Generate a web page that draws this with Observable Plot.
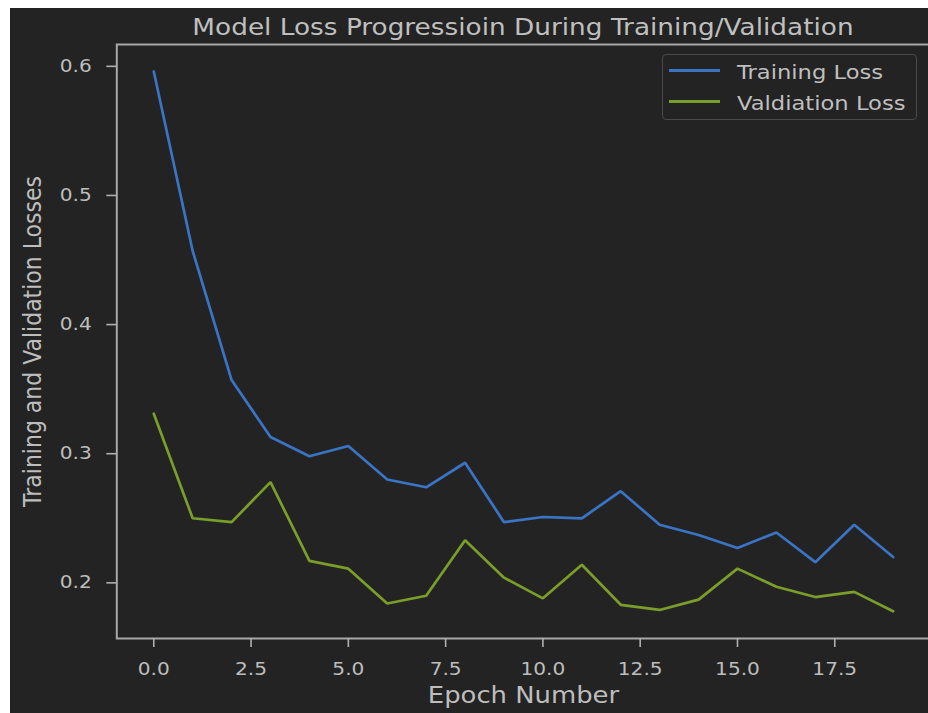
<!DOCTYPE html>
<html>
<head>
<meta charset="utf-8">
<script src="https://cdn.jsdelivr.net/npm/d3@7"></script>
<script src="https://cdn.jsdelivr.net/npm/@observablehq/plot@0.6"></script>
<style>
  html, body { margin: 0; padding: 0; background: #ffffff; overflow: hidden; }
  #wrap { position: relative; width: 928px; height: 713px; background: #ffffff; overflow: hidden; }
  #panel { position: absolute; left: 10px; top: 8px; width: 918px; height: 705px; background: #232323; overflow: hidden; font-family: "DejaVu Sans", sans-serif; }
  #chart { position: absolute; left: 0; top: 0; width: 930px; height: 705px; }
  #chart svg { max-width: none !important; width: 930px; height: 705px; display: block; }
  .title { position: absolute; left: 513px; top: 8px; white-space: nowrap; font-size: 22.5px; line-height: 1; color: #bfbfbf; transform: translateX(-50%) scaleX(1.17); }
  .legend-box { position: absolute; left: 652px; top: 46px; width: 253px; height: 64px; border: 1px solid #4a4a4a; border-radius: 4px; background: #232323; }
  .legend-line { position: absolute; height: 3px; width: 51px; left: 659px; }
  .legend-text { position: absolute; left: 727px; white-space: nowrap; font-size: 19.5px; line-height: 1; color: #bfbfbf; transform-origin: 0 50%; transform: scaleX(1.16); }
</style>
</head>
<body>
<div id="wrap"><div id="panel"><div id="chart"></div></div></div>
<script>
// ---- data ----
const epochs = [0, 1, 2, 3, 4, 5, 6, 7, 8, 9, 10, 11, 12, 13, 14, 15, 16, 17, 18, 19];
const trainingLoss = [0.596, 0.457, 0.357, 0.313, 0.298, 0.306, 0.280, 0.274, 0.293, 0.247,
                      0.251, 0.250, 0.271, 0.245, 0.237, 0.227, 0.239, 0.216, 0.245, 0.220];
const validationLoss = [0.331, 0.250, 0.247, 0.278, 0.217, 0.211, 0.184, 0.190, 0.233, 0.204,
                        0.188, 0.214, 0.183, 0.179, 0.187, 0.211, 0.197, 0.189, 0.193, 0.178];
const seriesNames = ["Training Loss", "Valdiation Loss"];
const seriesColors = ["#3a74c4", "#7a9e2a"];
const xTicks = [0, 2.5, 5, 7.5, 10, 12.5, 15, 17.5];
const yTicks = [0.2, 0.3, 0.4, 0.5, 0.6];
const titleText = "Model Loss Progressioin During Training/Validation";
const xLabel = "Epoch Number";
const yLabel = "Training and Validation Losses";

// ---- table for Plot ----
const rows = [];
epochs.forEach((e, i) => {
  rows.push({epoch: e, loss: trainingLoss[i], series: seriesNames[0]});
  rows.push({epoch: e, loss: validationLoss[i], series: seriesNames[1]});
});

const fmt = d3.format(".1f");
const chart = Plot.plot({
  width: 930,
  height: 705,
  marginLeft: 106.3,
  marginRight: 10.4,
  marginTop: 36,
  marginBottom: 75,
  style: {background: "transparent", color: "#bdbdbd", fontFamily: "DejaVu Sans, sans-serif", fontSize: "17.5px", maxWidth: "none"},
  x: {domain: [-0.95, 19.95]},
  y: {domain: [0.1569, 0.6169]},
  color: {domain: seriesNames, range: seriesColors},
  marks: [
    Plot.line(rows, {x: "epoch", y: "loss", z: "series", stroke: "series", strokeWidth: 2.7, strokeLinejoin: "miter"}),
    Plot.frame({stroke: "#a8a8a8", strokeWidth: 2}),
    Plot.axisX({ticks: xTicks, tickFormat: fmt, tickSize: 9, tickPadding: 15, stroke: "#b0b0b0", strokeWidth: 1.6,
                label: xLabel, labelAnchor: "center", labelArrow: "none", labelOffset: 64}),
    Plot.axisY({ticks: yTicks, tickFormat: fmt, tickSize: 10, tickPadding: 15, stroke: "#b0b0b0", strokeWidth: 1.6,
                label: yLabel, labelAnchor: "center", labelArrow: "none", labelOffset: 93.6})
  ]
});
chart.style.maxWidth = "none";

// axis label font sizes
chart.querySelectorAll('g[aria-label="x-axis label"]').forEach(g => {
  g.setAttribute("font-size", "22.5px");
  g.style.fontSize = "22.5px";
});
chart.querySelectorAll('g[aria-label="y-axis label"]').forEach(g => {
  g.setAttribute("font-size", "22px");
  g.style.fontSize = "22px";
});

// reference image is stretched horizontally: widen glyphs accordingly
const S = 1.15;
chart.querySelectorAll("text").forEach(t => {
  let tr = t.getAttribute("transform");
  if (tr) {
    t.setAttribute("transform", tr + (tr.includes("rotate") ? ` scale(1,${S})` : ` scale(${S},1)`));
  } else {
    const x = parseFloat(t.getAttribute("x") || 0);
    t.setAttribute("transform", `translate(${x},0) scale(${S},1) translate(${-x},0)`);
  }
});

document.getElementById("chart").appendChild(chart);

// ---- title and legend ----
const panel = document.getElementById("panel");
const title = document.createElement("div");
title.className = "title";
title.textContent = titleText;
panel.appendChild(title);

const box = document.createElement("div");
box.className = "legend-box";
panel.appendChild(box);
const lineY = [61, 92];
const textTop = [55, 85.5];
seriesNames.forEach((name, i) => {
  const ln = document.createElement("div");
  ln.className = "legend-line";
  ln.style.top = lineY[i] + "px";
  ln.style.background = seriesColors[i];
  panel.appendChild(ln);
  const tx = document.createElement("div");
  tx.className = "legend-text";
  tx.style.top = textTop[i] + "px";
  tx.textContent = name;
  panel.appendChild(tx);
});
</script>
</body>
</html>
